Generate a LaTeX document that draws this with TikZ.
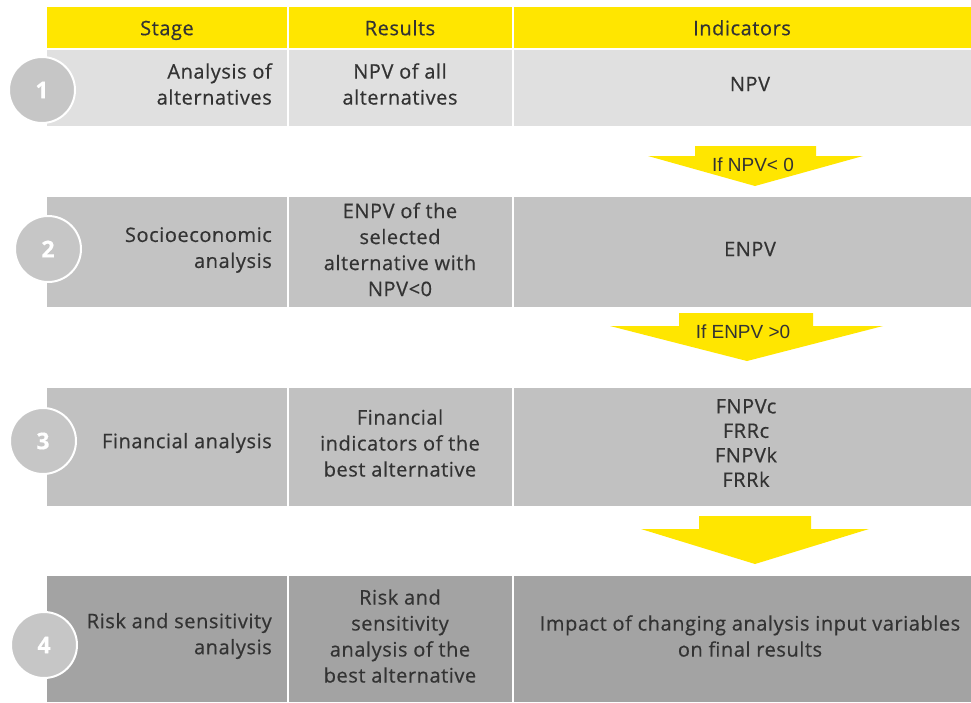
\documentclass[tikz,border=0pt]{standalone}
\usepackage{fontspec}
\setmainfont[LetterSpace=2.8,FakeBold=0.5]{Open Sans}
\newfontfamily\arrowfont{Liberation Sans}
\definecolor{eyyellow}{HTML}{FFE600}
\definecolor{rowa}{HTML}{E0E0E0}
\definecolor{rowb}{HTML}{C3C3C3}
\definecolor{rowc}{HTML}{C1C1C1}
\definecolor{rowd}{HTML}{A3A3A3}
\definecolor{circc}{HTML}{C6C6C6}
\definecolor{txtc}{HTML}{333333}
\begin{document}
\begin{tikzpicture}[x=1pt,y=-1pt,
  cell/.style={anchor=north west, inner sep=0pt, outer sep=0pt},
  txt/.style={text=txtc, font=\fontsize{20}{26}\selectfont, inner sep=0pt, align=center},
  txtr/.style={txt, anchor=east, align=right},
  hdr/.style={text=txtc, font=\fontsize{20}{22}\selectfont, inner sep=0pt, text height=14.5pt, text depth=0pt},
  num/.style={circle, fill=circc, draw=white, line width=2pt, minimum size=66pt, inner sep=0pt, text=white, font=\fontsize{23}{26}\selectfont\bfseries},
  arrowlbl/.style={text=txtc, font=\arrowfont\fontsize{19}{22}\selectfont, inner sep=0pt}
]
\useasboundingbox (0,0) rectangle (971,702);
\fill[white] (0,0) rectangle (971,702);
% header
\node[cell, fill=eyyellow, minimum width=240pt, minimum height=41pt] (h1) at (47,7) {};
\node[cell, fill=eyyellow, minimum width=223pt, minimum height=41pt] (h2) at (289,7) {};
\node[cell, fill=eyyellow, minimum width=457pt, minimum height=41pt] (h3) at (514,7) {};
\node[hdr] (ht1) at (167,28) {Stage};
\node[hdr] (ht2) at (400,28) {Results};
\node[hdr] (ht3) at (742,28) {Indicators};
% row 1
\node[cell, fill=rowa, minimum width=240pt, minimum height=76pt] (c11) at (47,50) {};
\node[cell, fill=rowa, minimum width=223pt, minimum height=76pt] (c12) at (289,50) {};
\node[cell, fill=rowa, minimum width=457pt, minimum height=76pt] (c13) at (514,50) {};
\node[txtr] (t11) at (272,84) {Analysis of\\alternatives};
\node[txt] (t12) at (400,84) {NPV of all\\alternatives};
\node[txt] (t13) at (750,84) {NPV};
% row 2
\node[cell, fill=rowb, minimum width=240pt, minimum height=110pt] (c21) at (47,197) {};
\node[cell, fill=rowb, minimum width=223pt, minimum height=110pt] (c22) at (289,197) {};
\node[cell, fill=rowb, minimum width=457pt, minimum height=110pt] (c23) at (514,197) {};
\node[txtr] (t21) at (272,250) {Socioeconomic\\analysis};
\node[txt] (t22) at (400,249.5) {ENPV of the\\selected\\alternative with\\NPV<0};
\node[txt] (t23) at (750,249) {ENPV};
% row 3
\node[cell, fill=rowc, minimum width=240pt, minimum height=118pt] (c31) at (47,388) {};
\node[cell, fill=rowc, minimum width=223pt, minimum height=118pt] (c32) at (289,388) {};
\node[cell, fill=rowc, minimum width=457pt, minimum height=118pt] (c33) at (514,388) {};
\node[txtr] (t31) at (272,443) {Financial analysis};
\node[txt] (t32) at (400,443) {Financial\\indicators of the\\best alternative};
\node[txt, font=\fontsize{20}{24.5}\selectfont] (t33) at (746,443) {FNPVc\\FRRc\\FNPVk\\FRRk};
% row 4
\node[cell, fill=rowd, minimum width=240pt, minimum height=126pt] (c41) at (47,576) {};
\node[cell, fill=rowd, minimum width=223pt, minimum height=126pt] (c42) at (289,576) {};
\node[cell, fill=rowd, minimum width=457pt, minimum height=126pt] (c43) at (514,576) {};
\node[txtr] (t41) at (272,636) {Risk and sensitivity\\analysis};
\node[txt] (t42) at (400,636) {Risk and\\sensitivity\\analysis of the\\best alternative};
\node[txt] (t43) at (750,636) {Impact of changing analysis input variables\\on final results};
% numbers
\node[num] (n1) at (42,90) {1};
\node[num] (n2) at (48,249) {2};
\node[num] (n3) at (43,441) {3};
\node[num] (n4) at (44,645) {4};
% arrows
\fill[eyyellow] (695,146) -- (816,146) -- (816,156) -- (863,156) -- (755,186) -- (648,156) -- (695,156) -- cycle;
\node[arrowlbl] (a1) at (753,165) {If NPV< 0};
\fill[eyyellow] (679,313) -- (813,313) -- (813,326) -- (883,326) -- (747,361) -- (610,326) -- (679,326) -- cycle;
\node[arrowlbl] (a2) at (743,332) {If ENPV >0};
\fill[eyyellow] (699,516) -- (811,516) -- (811,529) -- (869,529) -- (755,564) -- (641,529) -- (699,529) -- cycle;
\end{tikzpicture}
\end{document}
